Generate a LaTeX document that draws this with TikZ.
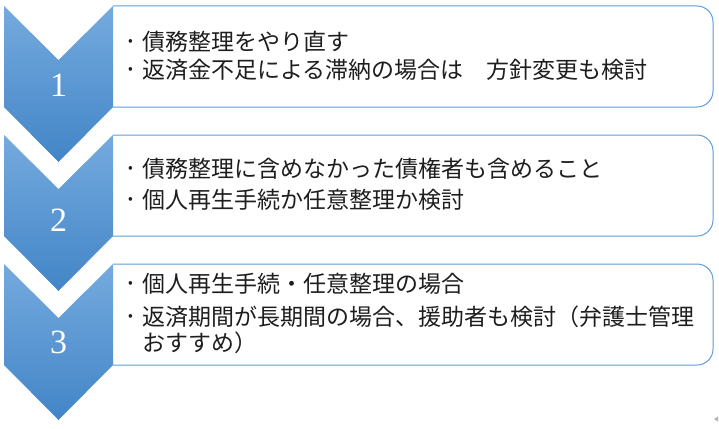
\documentclass[tikz,border=0pt]{standalone}
\usepackage{fontspec}
\setmainfont{Liberation Serif}
\newfontfamily\jpfont{Noto Sans CJK JP}
\definecolor{chevtop}{RGB}{117,170,222}
\definecolor{chevbot}{RGB}{66,133,199}
\definecolor{boxblue}{RGB}{96,157,214}
\definecolor{txtgray}{RGB}{30,30,30}
\tikzset{
  chev/.style={top color=chevtop, bottom color=chevbot, draw=none},
  boxline/.style={draw=boxblue, line width=1pt},
  numtxt/.style={text=white, font=\fontsize{34}{34}\selectfont, inner sep=0pt},
  itemtxt/.style={anchor=west, text=txtgray, inner sep=0pt, font=\jpfont\fontsize{23}{23}\selectfont},
}
\newcommand{\bulletmark}{\makebox[14pt][l]{\raisebox{5pt}{\fontsize{14}{14}\selectfont •}}}
\begin{document}
\begin{tikzpicture}[x=1pt,y=1pt]
\useasboundingbox (0,0) rectangle (719,-428);
% boxes (left side hidden under chevrons)
\foreach \t/\b in {6/107,135/236,264/365}{
  \draw[boxline] (113,-\t) -- (697,-\t) arc[start angle=90,end angle=0,radius=16]
     -- (713,-\b+16) arc[start angle=0,end angle=-90,radius=16] -- (113,-\b);
}
% chevrons
\foreach \o in {0,129,258}{
  \shade[chev] (4,-6-\o) -- (58.5,-60-\o) -- (113,-6-\o) -- (113,-107-\o)
     -- (58.5,-162-\o) -- (4,-107-\o) -- cycle;
}
% numbers
\node[numtxt] (n1) at (58.5,-85) {1};
\node[numtxt] (n2) at (58.5,-220) {2};
\node[numtxt] (n3) at (58.5,-342) {3};
% texts
\node[itemtxt] (a1) at (128,-42) {\bulletmark 債務整理をやり直す};
\node[itemtxt] (a2) at (128,-70) {\bulletmark 返済金不足による滞納の場合は　方針変更も検討};
\node[itemtxt] (b1) at (128,-169) {\bulletmark 債務整理に含めなかった債権者も含めること};
\node[itemtxt] (b2) at (128,-200) {\bulletmark 個人再生手続か任意整理か検討};
\node[itemtxt] (c1) at (128,-284) {\bulletmark 個人再生手続・任意整理の場合};
\node[itemtxt] (c2) at (128,-317) {\bulletmark 返済期間が長期間の場合、援助者も検討（弁護士管理};
\node[itemtxt] (c3) at (142,-343) {おすすめ）};
% small mark at bottom right
\fill[gray!60] (714,-419) -- (718,-416.5) -- (718,-421.5) -- cycle;
\end{tikzpicture}
\end{document}
